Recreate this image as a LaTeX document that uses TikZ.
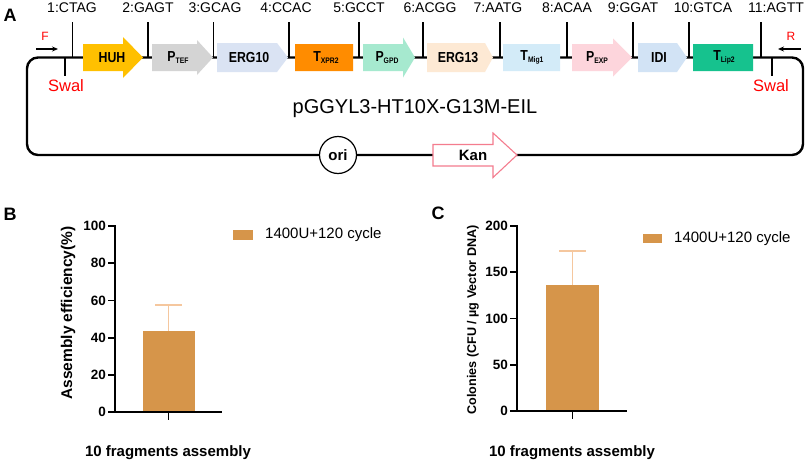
\documentclass[tikz,border=0pt]{standalone}
\usepackage{fontspec}
\setmainfont{Liberation Sans}
\newfontfamily\genefont[FakeStretch=0.85]{Liberation Sans}
\usetikzlibrary{arrows.meta}
\definecolor{cHUH}{HTML}{FFC000}
\definecolor{cTEF}{HTML}{D4D4D4}
\definecolor{cERGa}{HTML}{DAE3F3}
\definecolor{cXPR}{HTML}{FF8C00}
\definecolor{cGPD}{HTML}{A6E9CF}
\definecolor{cERGb}{HTML}{FDE9D4}
\definecolor{cMig}{HTML}{D3EBF8}
\definecolor{cEXP}{HTML}{FDD5DC}
\definecolor{cIDI}{HTML}{D2E3F5}
\definecolor{cLip}{HTML}{16C28E}
\definecolor{cbar}{HTML}{D6954A}
\definecolor{cerr}{HTML}{F5C79E}
\definecolor{ckan}{HTML}{F47C8E}
\definecolor{cred}{HTML}{FF0000}
\newcommand\fs[1]{\fontsize{#1}{#1}\selectfont}
\newcommand\gsub[1]{\raisebox{-2.5pt}{\fs{8}#1}}
% x0, body end, tip, body half, head half, colour
\newcommand\garrow[6]{\fill[#6] (#1,{57.5-#4}) -- (#2,{57.5-#4}) -- (#2,{57.5-#5}) -- (#3,57.5) -- (#2,{57.5+#5}) -- (#2,{57.5+#4}) -- (#1,{57.5+#4}) -- cycle;}
\begin{document}
\begin{tikzpicture}[x=1pt,y=-1pt,
  backbone/.style={line width=2.4pt},
  cuttick/.style={line width=1.4pt},
  toplabel/.style={font=\fs{14}, inner sep=0pt},
  genelabel/.style={font=\genefont\bfseries\fs{14.5}, inner sep=0pt},
  redlabel/.style={text=cred, inner sep=0pt},
  panel/.style={font=\bfseries\fs{18}, inner sep=0pt},
  axisline/.style={line width=1.8pt},
  ticklab/.style={font=\bfseries\fs{13.5}, inner sep=0pt, anchor=east},
  errline/.style={draw=cerr, line width=1.2pt},
  legtext/.style={font=\fs{15}, inner sep=0pt, anchor=west}]
\useasboundingbox (0,0) rectangle (809,463);
\fill[white] (0,0) rectangle (809,463);

% ---------- Panel A ----------
\node[panel] (pA) at (10,15) {A};
\draw[backbone, rounded corners=11pt] (27,57.5) rectangle (803,155);

% genes
\garrow{83}{123}{143}{13.5}{20.5}{cHUH}
\garrow{152}{197}{213}{13.5}{17.5}{cTEF}
\garrow{217}{277}{288}{14.5}{14.5}{cERGa}
\garrow{295}{353}{353}{13.5}{13.5}{cXPR}
\garrow{363}{403}{415}{13.5}{20}{cGPD}
\garrow{427}{485}{493}{14.5}{14.5}{cERGb}
\garrow{503}{560}{560}{13.5}{13.5}{cMig}
\garrow{572}{613}{632}{13.5}{19}{cEXP}
\garrow{638}{677}{687}{14.5}{14.5}{cIDI}
\garrow{693}{753}{753}{13.5}{13.5}{cLip}

\node[genelabel] (gHUH) at (112,57.5) {HUH};
\node[genelabel] (gTEF) at (178,57.5) {P\gsub{TEF}};
\node[genelabel] (gERGa) at (249,57.5) {ERG10};
\node[genelabel] (gXPR) at (326,57.5) {T\gsub{XPR2}};
\node[genelabel] (gGPD) at (387,57.5) {P\gsub{GPD}};
\node[genelabel] (gERGb) at (458,57.5) {ERG13};
\node[genelabel] (gMig) at (532,57.5) {T\gsub{Mig1}};
\node[genelabel] (gEXP) at (597,57.5) {P\gsub{EXP}};
\node[genelabel] (gIDI) at (659,57.5) {IDI};
\node[genelabel] (gLip) at (724,57.5) {T\gsub{Lip2}};

% junction labels and ticks
\foreach \lx/\tx/\txt [count=\i] in {72/72.7/1:CTAG, 148/148/2:GAGT, 215/213.5/3:GCAG, 286/289/4:CCAC, 359/359/5:GCCT, 430/423/6:ACGG, 498/500/7:AATG, 567/567/8:ACAA, 633/633/9:GGAT, 703/689/10:GTCA, 776/761/11:AGTT}{
  \node[toplabel] (j\i) at (\lx,8) {\txt};
  \draw[cuttick] (\tx,22) -- (\tx,57.5);
}

% SwaI sites
\draw[cuttick] (65,57.5) -- (65,76);
\node[redlabel, font=\fs{16.5}] (swL) at (66,86) {Swal};
\draw[cuttick] (772,57.5) -- (772,76);
\node[redlabel, font=\fs{16.5}] (swR) at (771,86) {Swal};

% primers
\node[redlabel, font=\fs{12}] (pF) at (45,36) {F};
\coordinate (fa) at (36,49); \coordinate (fb) at (58,49);
\draw[line width=1.1pt, -{Stealth[length=6pt,width=5pt]}] (fa) -- (fb);
\node[redlabel, font=\fs{12}] (pR) at (791,36) {R};
\coordinate (ra) at (801,49); \coordinate (rb) at (778,49);
\draw[line width=1.1pt, -{Stealth[length=6pt,width=5pt]}] (ra) -- (rb);

\node[inner sep=0pt, font=\fs{20}] (title) at (415,109) {pGGYL3-HT10X-G13M-EIL};

% ori and Kan
\node[circle, draw=black, fill=white, line width=1.2pt, minimum size=37pt, inner sep=0pt, font=\bfseries\fs{15}] (ori) at (338,155) {ori};
\filldraw[draw=ckan, fill=white, line width=1.1pt] (433,144.5) -- (493,144.5) -- (493,133) -- (517,155) -- (493,177.5) -- (493,166) -- (433,166) -- cycle;
\node[inner sep=0pt, font=\bfseries\fs{15}] (kan) at (473,155) {Kan};

% ---------- Panel B ----------
\node[panel] (pB) at (10,214) {B};
\fill[cbar] (143,412) rectangle (195,331);
\draw[errline] (168.5,331) -- (168.5,305);
\draw[errline] (155,305) -- (182,305);
\draw[axisline] (115,225) -- (115,412) -- (222,412);
\foreach \v in {0,20,40,60,80,100}{
  \draw[axisline] (108,{412-1.86*\v}) -- (115,{412-1.86*\v});
  \node[ticklab] (bt\v) at (106,{412-1.86*\v}) {\v};
}
\draw[axisline] (168.5,412) -- (168.5,420);
\node[inner sep=0pt, font=\bfseries\fs{15}] (bxl) at (168,453) {10 fragments assembly};
\node[inner sep=0pt, font=\bfseries\fs{15.5}, rotate=90] (byl) at (68,313) {Assembly efficiency(\%)};
\fill[cbar] (233,230) rectangle (253,240);
\node[legtext] (bleg) at (265,235) {1400U+120 cycle};

% ---------- Panel C ----------
\node[panel] (pC) at (438,213) {C};
\fill[cbar] (546,411) rectangle (599,285);
\draw[errline] (572.5,285) -- (572.5,251);
\draw[errline] (559,251) -- (586,251);
\draw[axisline] (517,225) -- (517,411) -- (627,411);
\foreach \v in {0,50,100,150,200}{
  \draw[axisline] (510,{411-0.925*\v}) -- (517,{411-0.925*\v});
  \node[ticklab] (ct\v) at (508,{411-0.925*\v}) {\v};
}
\draw[axisline] (572.5,411) -- (572.5,419);
\node[inner sep=0pt, font=\bfseries\fs{15}] (cxl) at (572,453) {10 fragments assembly};
\node[inner sep=0pt, font=\bfseries\fs{12.6}, rotate=90] (cyl) at (473,320) {Colonies (CFU / µg Vector DNA)};
\fill[cbar] (643,234) rectangle (662,243);
\node[legtext] (cleg) at (674,239) {1400U+120 cycle};
\end{tikzpicture}
\end{document}
